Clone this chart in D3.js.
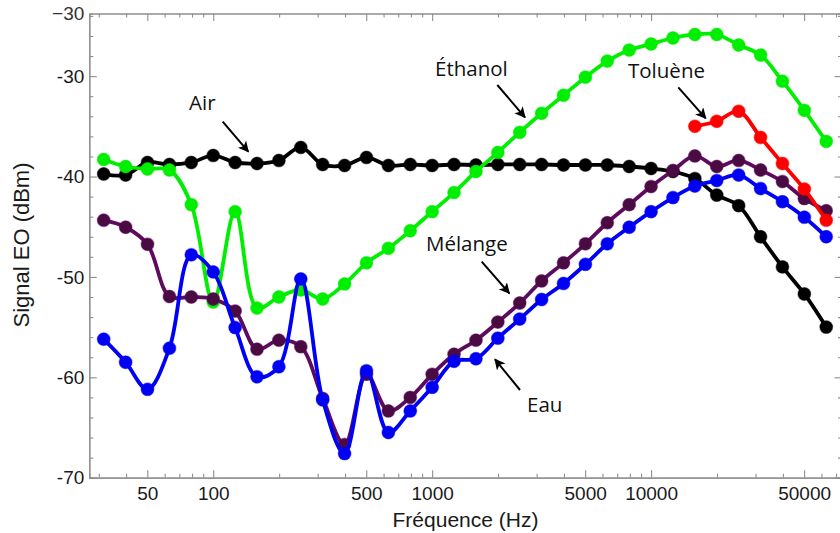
<!DOCTYPE html>
<html>
<head>
<meta charset="utf-8">
<script src="https://cdn.jsdelivr.net/npm/d3@7"></script>
<style>
html,body{margin:0;padding:0;background:#fff;}
svg{display:block;}
</style>
</head>
<body>
<svg id="chart" width="840" height="533"></svg>
<script>
// ---------------- DATA ----------------
const frequencies = [31.6, 39.8, 50.1, 63.1, 79.4, 100, 125.9, 158.5, 199.5, 251.2,
  316.2, 398.1, 501.2, 631, 794.3, 1000, 1258.9, 1584.9, 1995.3, 2511.9,
  3162.3, 3981.1, 5011.9, 6309.6, 7943.3, 10000, 12589, 15849, 19953, 25119,
  31623, 39811, 50119, 63096];

const airValues = [-39.75, -39.85, -38.6, -38.8, -38.6, -37.9, -38.6, -38.7, -38.4, -37.1,
  -38.8, -38.9, -38.1, -38.9, -38.8, -38.9, -38.8, -38.85, -38.8, -38.8,
  -38.8, -38.85, -38.85, -38.85, -39.0, -39.2, -39.5, -40.2, -41.85, -42.9,
  -46.0, -49.0, -51.7, -55.0];

const ethanolValues = [-38.3, -39.0, -39.25, -39.35, -42.8, -52.5, -43.5, -53.1, -52.0, -51.3,
  -52.2, -50.7, -48.6, -47.15, -45.4, -43.5, -41.6, -39.5, -37.6, -35.6,
  -33.7, -31.9, -30.1, -28.5, -27.4, -26.8, -26.2, -25.85, -25.85, -26.9,
  -27.9, -30.5, -33.4, -36.5];

const tolueneValues = [null, null, null, null, null, null, null, null, null, null,
  null, null, null, null, null, null, null, null, null, null,
  null, null, null, null, null, null, null, -35.0, -34.5, -33.5,
  -36.1, -38.7, -41.25, -44.35];

const melangeValues = [-44.35, -45.05, -46.75, -51.95, -52.0, -52.2, -53.4, -57.2, -56.3, -56.95,
  -62.1, -66.7, -59.7, -63.35, -62.0, -59.7, -57.7, -56.3, -54.5, -52.6,
  -50.4, -48.6, -46.7, -44.6, -42.8, -41.0, -39.4, -37.95, -39.0, -38.4,
  -39.35, -40.5, -42.2, -43.4];

const eauValues = [-56.2, -58.5, -61.2, -57.1, -47.8, -49.5, -55.05, -59.95, -58.95, -50.2,
  -62.25, -67.6, -59.35, -65.5, -63.35, -61.0, -58.4, -58.15, -56.1, -54.2,
  -52.25, -50.65, -48.75, -46.7, -45.05, -43.5, -42.1, -40.95, -40.4, -39.85,
  -41.2, -42.5, -44.05, -46.0];

const xTickValues = [50, 100, 500, 1000, 5000, 10000, 50000];
const xTickLabels = ["50", "100", "500", "1000", "5000", "10000", "50000"];
const yTickValues = [-70, -60, -50, -40, -30];
const yTickLabels = ["-70", "-60", "-50", "-40", "-30"];
const topLeftLabel = "\u221230";

const xTitle = "Fréquence (Hz)";
const yTitle = "Signal EO (dBm)";

// ---------------- LAYOUT / STYLE ----------------
const plot = {left: 89.3, right: 842, top: 13.5, bottom: 477.7};
const frameColor = "#8e8e8e";
const textColor = "#1a1a1a";
const tickFont = "Liberation Sans, Arial, sans-serif";

const series = [
  {name: "Air", values: airValues, line: "#000000", dot: "#000000"},
  {name: "Éthanol", values: ethanolValues, line: "#00ee00", dot: "#00ee00"},
  {name: "Mélange", values: melangeValues, line: "#5e0a5e", dot: "#4a0a42"},
  {name: "Eau", values: eauValues, line: "#0000f5", dot: "#0000f5"},
  {name: "Toluène", values: tolueneValues, line: "#ff0000", dot: "#ff0000"}
];

const annotations = [
  {text: "Air", tx: 189, ty: 110, x1: 222.7, y1: 121.7, x2: 248.3, y2: 151.7},
  {text: "Éthanol", tx: 435, ty: 76, x1: 497.3, y1: 85, x2: 525, y2: 117.3},
  {text: "Toluène", tx: 628, ty: 78.3, x1: 678.3, y1: 87.3, x2: 705.7, y2: 118.3},
  {text: "Mélange", tx: 426, ty: 250.7, x1: 481.7, y1: 261.7, x2: 509.3, y2: 293.3},
  {text: "Eau", tx: 527, ty: 411.7, x1: 520, y1: 390, x2: 495, y2: 359.3}
];

// ---------------- SCALES ----------------
const x = d3.scaleLog().domain([27.16, 74480]).range([plot.left, plot.right]);
const y = d3.scaleLinear().domain([-70, -23.76]).range([plot.bottom, plot.top]);

const svg = d3.select("#chart");

// minor ticks
const xMinor = [];
for (let e = 1; e <= 4; e++) {
  for (let m = 1; m <= 9; m++) {
    const v = m * Math.pow(10, e);
    if (v >= 27.16 && v <= 74480 && !xTickValues.includes(v)) xMinor.push(v);
  }
}
const yMinor = d3.range(-68, -23, 2).filter(v => !yTickValues.includes(v));

function styleAxis(g) {
  g.selectAll("path.domain").attr("stroke", frameColor).attr("stroke-width", 1.2);
  g.selectAll(".tick line").attr("stroke", frameColor).attr("stroke-width", 1.1);
  g.selectAll(".tick text").attr("fill", textColor)
    .style("font-family", tickFont).style("font-size", "19px");
}

// bottom
svg.append("g").attr("transform", `translate(0,${plot.bottom})`)
  .call(d3.axisBottom(x).tickValues(xMinor).tickSize(-4).tickFormat(""))
  .call(styleAxis);
svg.append("g").attr("transform", `translate(0,${plot.bottom})`)
  .call(d3.axisBottom(x).tickValues(xTickValues).tickSizeInner(-7.5).tickSizeOuter(0).tickPadding(9)
    .tickFormat((d, i) => xTickLabels[i]))
  .call(styleAxis);
// top
svg.append("g").attr("transform", `translate(0,${plot.top})`)
  .call(d3.axisTop(x).tickValues(xMinor).tickSize(-4).tickFormat(""))
  .call(styleAxis);
svg.append("g").attr("transform", `translate(0,${plot.top})`)
  .call(d3.axisTop(x).tickValues(xTickValues).tickSizeInner(-7.5).tickSizeOuter(0).tickFormat(""))
  .call(styleAxis);
// left
svg.append("g").attr("transform", `translate(${plot.left},0)`)
  .call(d3.axisLeft(y).tickValues(yMinor).tickSize(-4).tickFormat(""))
  .call(styleAxis);
svg.append("g").attr("transform", `translate(${plot.left},0)`)
  .call(d3.axisLeft(y).tickValues(yTickValues).tickSizeInner(-7.5).tickSizeOuter(0).tickPadding(5)
    .tickFormat((d, i) => yTickLabels[i]))
  .call(styleAxis);
// right
svg.append("g").attr("transform", `translate(${plot.right},0)`)
  .call(d3.axisRight(y).tickValues(yMinor).tickSize(-4).tickFormat(""))
  .call(styleAxis);
svg.append("g").attr("transform", `translate(${plot.right},0)`)
  .call(d3.axisRight(y).tickValues(yTickValues).tickSizeInner(-7.5).tickSizeOuter(0).tickFormat(""))
  .call(styleAxis);

// odd top-left label
svg.append("text").attr("x", plot.left - 5).attr("y", plot.top + 1)
  .attr("text-anchor", "end").attr("dominant-baseline", "middle")
  .attr("fill", "#333").style("font-family", tickFont).style("font-size", "19px")
  .text(topLeftLabel);

// titles
svg.append("text").attr("x", 465.5).attr("y", 526.7).attr("text-anchor", "middle")
  .attr("fill", textColor).style("font-family", tickFont).style("font-size", "21px")
  .text(xTitle);
svg.append("text").attr("transform", `translate(28.5,${245}) rotate(-90)`).attr("text-anchor", "middle")
  .attr("fill", textColor).style("font-family", tickFont).style("font-size", "22px")
  .text(yTitle);

// ---------------- SERIES ----------------
const line = d3.line()
  .defined(d => d[1] !== null)
  .x(d => x(d[0])).y(d => y(d[1]))
  .curve(d3.curveCatmullRom.alpha(0.5));

series.forEach(s => {
  const pts = frequencies.map((f, i) => [f, s.values[i]]);
  const g = svg.append("g");
  g.append("path").datum(pts.filter(d => d[1] !== null))
    .attr("d", line).attr("fill", "none")
    .attr("stroke", s.line).attr("stroke-width", 3.8)
    .attr("stroke-linejoin", "round").attr("stroke-linecap", "round");
  g.selectAll("circle").data(pts.filter(d => d[1] !== null)).enter().append("circle")
    .attr("cx", d => x(d[0])).attr("cy", d => y(d[1])).attr("r", 6.4)
    .attr("fill", s.dot).attr("stroke", s.line).attr("stroke-opacity", 0.45).attr("stroke-width", 1.2);
});

// ---------------- ANNOTATIONS ----------------
const defs = svg.append("defs");
defs.append("marker").attr("id", "arrow").attr("viewBox", "0 0 10 10")
  .attr("refX", 9).attr("refY", 5).attr("markerWidth", 5.5).attr("markerHeight", 5.5)
  .attr("markerUnits", "strokeWidth").attr("orient", "auto")
  .append("path").attr("d", "M0,0 L10,5 L0,10 L2.5,5 Z").attr("fill", "#000");

annotations.forEach(a => {
  svg.append("text").attr("x", a.tx).attr("y", a.ty)
    .attr("fill", "#111").style("font-family", "Open Sans, sans-serif").style("font-size", "20.5px")
    .text(a.text);
  svg.append("line").attr("x1", a.x1).attr("y1", a.y1).attr("x2", a.x2).attr("y2", a.y2)
    .attr("stroke", "#000").attr("stroke-width", 2).attr("marker-end", "url(#arrow)");
});
</script>
</body>
</html>
